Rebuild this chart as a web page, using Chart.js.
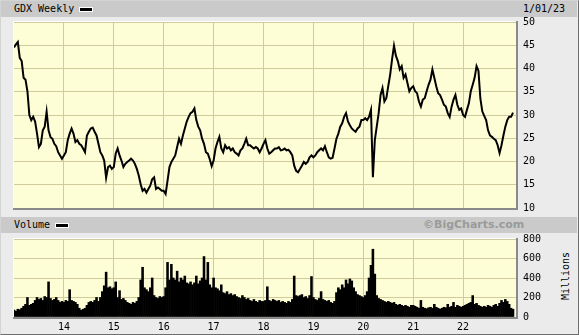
<!DOCTYPE html>
<html><head><meta charset="utf-8">
<script src="https://cdn.jsdelivr.net/npm/chart.js@4.4.1/dist/chart.umd.min.js"></script>
<style>
html,body{margin:0;padding:0;}
body{width:579px;height:335px;overflow:hidden;background:#ebebeb;position:relative;font-family:"DejaVu Sans Mono",monospace;font-size:10px;color:#000;}
#frame{position:absolute;left:0;top:0;width:577px;height:333px;border-left:1px solid #d4d4d4;border-top:1px solid #d4d4d4;border-right:1px solid #6e6e6e;border-bottom:1px solid #6e6e6e;}
.hbar{position:absolute;left:1px;width:576px;height:16px;background:#cacaca;}
.txt{position:absolute;line-height:12px;white-space:nowrap;}
.sw{position:absolute;width:12px;height:3px;background:#000;border:1px solid #fff;}
canvas{position:absolute;left:0;top:0;}
#mil{position:absolute;left:566px;top:276px;transform:translate(-50%,-50%) rotate(-90deg);line-height:12px;}
</style></head>
<body>
<div id="frame"></div>
<div class="hbar" style="top:1px"></div>
<div class="hbar" style="top:217px"></div>
<div class="txt" style="left:14px;top:3px">GDX Weekly</div>
<div class="sw" style="left:79px;top:7px"></div>
<div class="txt" style="left:523px;top:3px">1/01/23</div>
<div class="txt" style="left:14px;top:219px">Volume</div>
<div class="sw" style="left:55px;top:223px"></div>
<div class="txt" style="left:423px;top:219px;font-family:'DejaVu Sans',sans-serif;font-weight:bold;font-size:11px;color:#9a9a9a">©BigCharts.com</div>
<div id="mil">Millions</div>
<canvas id="c1" width="579" height="335"></canvas>
<canvas id="c2" width="579" height="335"></canvas>
<script>
// ---- data (biweekly readings, 26 per year) ----
const years = [2013,2014,2015,2016,2017,2018,2019,2020,2021,2022];
const price2013 = [44.5,45.2,45.7,42.3,41.6,38.0,37.6,35.1,30.0,28.9,29.6,28.6,26.0,23.1,23.8,26.7,27.5,30.7,26.7,25.3,24.9,23.8,23.3,22.0,21.3,20.6];
const price2014 = [21.3,22.0,24.6,26.0,27.1,26.0,24.2,24.6,23.8,23.5,22.8,22.0,25.6,26.4,27.1,27.3,26.4,25.6,23.8,22.0,21.3,20.2,16.5,18.8,19.1,18.4];
const price2015 = [18.8,21.7,22.8,21.3,20.2,18.8,19.5,19.9,20.2,20.6,20.2,19.5,18.4,17.0,15.1,13.7,14.1,13.3,14.1,14.8,16.2,16.6,14.1,14.4,14.1,13.7];
const price2016 = [13.7,13.0,15.9,18.8,19.9,20.6,21.3,23.1,24.9,23.8,25.6,27.1,28.6,29.6,30.4,30.7,31.4,28.9,27.5,26.7,24.9,23.8,22.0,21.7,20.5,19.0];
const price2017 = [20.2,22.8,24.2,25.3,22.8,22.0,23.5,22.8,23.1,22.4,22.8,22.0,21.7,21.3,22.4,22.8,23.8,24.9,23.5,23.5,23.1,22.8,23.1,22.8,22.0,22.8];
const price2018 = [23.8,24.6,22.8,21.7,22.0,22.4,22.8,22.8,23.1,22.4,22.5,22.8,22.4,22.5,22.0,21.3,19.1,18.0,17.7,18.4,19.1,19.9,19.5,19.9,20.9,21.3];
const price2019 = [20.9,21.3,22.0,22.4,22.8,22.4,23.3,22.0,20.9,20.6,20.8,22.8,24.9,26.0,27.5,28.2,29.6,30.4,28.6,27.8,27.1,26.7,26.4,27.1,27.5,28.9];
const price2020 = [28.9,29.3,28.9,29.6,31.1,16.6,24.6,27.5,30.4,34.3,35.8,32.9,33.6,36.2,38.7,42.0,44.9,42.7,41.6,39.8,40.5,38.0,38.7,36.9,35.1,35.8];
const price2021 = [36.2,35.1,34.7,32.9,31.8,33.3,33.6,35.1,36.5,37.6,39.8,38.0,36.2,34.7,34.3,33.3,32.2,31.8,30.4,29.6,31.8,33.3,34.3,32.2,31.1,31.4];
const price2022 = [30.0,29.6,31.1,32.5,35.1,36.5,38.0,40.5,39.5,33.5,30.8,29.8,28.9,26.7,25.6,25.3,24.9,24.6,23.5,21.8,23.5,25.6,27.5,28.9,29.6,29.6,30.5];

const vol2013 = [70,60,80,75,90,110,130,200,120,130,140,170,200,180,190,170,210,200,360,190,170,180,200,170,150,160];
const vol2014 = [150,170,160,280,170,160,150,130,90,70,80,90,120,150,160,150,170,200,160,200,260,320,460,300,310,290];
const vol2015 = [300,360,200,270,180,190,170,150,140,130,150,140,160,200,380,510,300,280,260,300,400,220,200,190,210,200];
const vol2016 = [210,300,560,380,540,400,380,470,360,400,380,420,350,340,360,330,350,420,340,370,400,620,380,560,330,300];
const vol2017 = [400,300,290,270,330,250,240,260,230,240,220,230,210,200,190,220,200,180,190,170,160,180,160,150,170,160];
const vol2018 = [160,170,310,170,160,180,170,160,170,150,160,150,140,160,150,180,420,220,210,220,230,200,210,190,220,415];
const vol2019 = [200,180,170,190,260,180,170,160,170,150,140,160,250,300,280,330,300,380,340,390,370,300,260,230,220,210];
const vol2020 = [200,220,260,400,530,695,440,220,190,180,170,160,150,160,150,140,150,130,120,130,120,110,120,110,100,120];
const vol2021 = [120,110,100,90,170,100,90,85,95,100,90,130,100,90,80,90,100,95,130,100,110,150,100,120,110,100];
const vol2022 = [110,120,130,140,150,220,130,140,120,110,100,110,100,120,110,100,120,130,110,140,170,150,180,160,130,90,80];

const priceByYear = [price2013,price2014,price2015,price2016,price2017,price2018,price2019,price2020,price2021,price2022];
const volByYear = [vol2013,vol2014,vol2015,vol2016,vol2017,vol2018,vol2019,vol2020,vol2021,vol2022];
const yearTicks = [2014,2015,2016,2017,2018,2019,2020,2021,2022];
const priceTicks = [10,15,20,25,30,35,40,45,50];
const volTicks = [0,200,400,600,800];

function toPoints(groups){
  const out=[];
  groups.forEach((arr,yi)=>arr.forEach((v,k)=>out.push({x:years[yi]+k/26,y:v})));
  return out;
}
const pricePts = toPoints(priceByYear);
const volPts = toPoints(volByYear);

const X_MIN = 2013, X_MAX = 2023.06;
const GRID = '#cfcb9c';
const BG = '#fefed6';
const monoFont = {family:'DejaVu Sans Mono', size:10};

const panelPlugin = {
  id:'panel',
  beforeDraw(c){
    const a=c.chartArea, ctx=c.ctx;
    ctx.save(); ctx.fillStyle=BG; ctx.fillRect(a.left,a.top,a.right-a.left,a.bottom-a.top); ctx.restore();
  },
  afterDraw(c){
    const a=c.chartArea, ctx=c.ctx;
    ctx.save();
    ctx.fillStyle='#ffffff';
    ctx.fillRect(a.left-1,a.top-1,a.right-a.left+1,1);
    ctx.fillRect(a.left-1,a.top-1,1,a.bottom-a.top+1);
    ctx.fillStyle='#8a8a8a';
    ctx.fillRect(a.left-1,a.bottom,a.right-a.left+3,2);
    ctx.fillRect(a.right,a.top-1,2,a.bottom-a.top+3);
    ctx.restore();
  }
};

function xScale(showLabels){
  return {
    type:'linear', min:X_MIN, max:X_MAX, offset:false,
    afterBuildTicks(s){ s.ticks = yearTicks.map(v=>({value:v})); },
    afterFit(s){ s.height = showLabels ? 18 : 0; },
    grid:{color:GRID, lineWidth:1, drawTicks:false, offset:false},
    border:{display:false},
    ticks:{display:showLabels, padding:4, color:'#000', font:monoFont, maxRotation:0, autoSkip:false,
      callback:(v)=>String(v).slice(2)}
  };
}
function yScale(min,max,ticks){
  return {
    type:'linear', position:'right', min:min, max:max,
    afterBuildTicks(s){ s.ticks = ticks.map(v=>({value:v})); },
    afterFit(s){ s.width = 63; },
    grid:{color:GRID, lineWidth:1, drawTicks:false},
    border:{display:false},
    ticks:{padding:7, color:'#000', font:monoFont, autoSkip:false}
  };
}

new Chart(document.getElementById('c1'), {
  type:'line',
  data:{datasets:[{data:pricePts, borderColor:'#000', borderWidth:2, pointRadius:0, tension:0, fill:false}]},
  options:{
    responsive:false, animation:false, devicePixelRatio:1,
    layout:{padding:{left:14, top:22, right:0, bottom:127}},
    plugins:{legend:{display:false}, tooltip:{enabled:false}},
    scales:{x:xScale(false), y:yScale(10,50,priceTicks)}
  },
  plugins:[panelPlugin]
});

new Chart(document.getElementById('c2'), {
  type:'bar',
  data:{datasets:[{data:volPts, backgroundColor:'#000', borderWidth:0, barPercentage:1, categoryPercentage:1}]},
  options:{
    responsive:false, animation:false, devicePixelRatio:1,
    layout:{padding:{left:14, top:239, right:0, bottom:0}},
    plugins:{legend:{display:false}, tooltip:{enabled:false}},
    scales:{x:xScale(true), y:yScale(0,800,volTicks)}
  },
  plugins:[panelPlugin]
});
</script>
</body></html>
